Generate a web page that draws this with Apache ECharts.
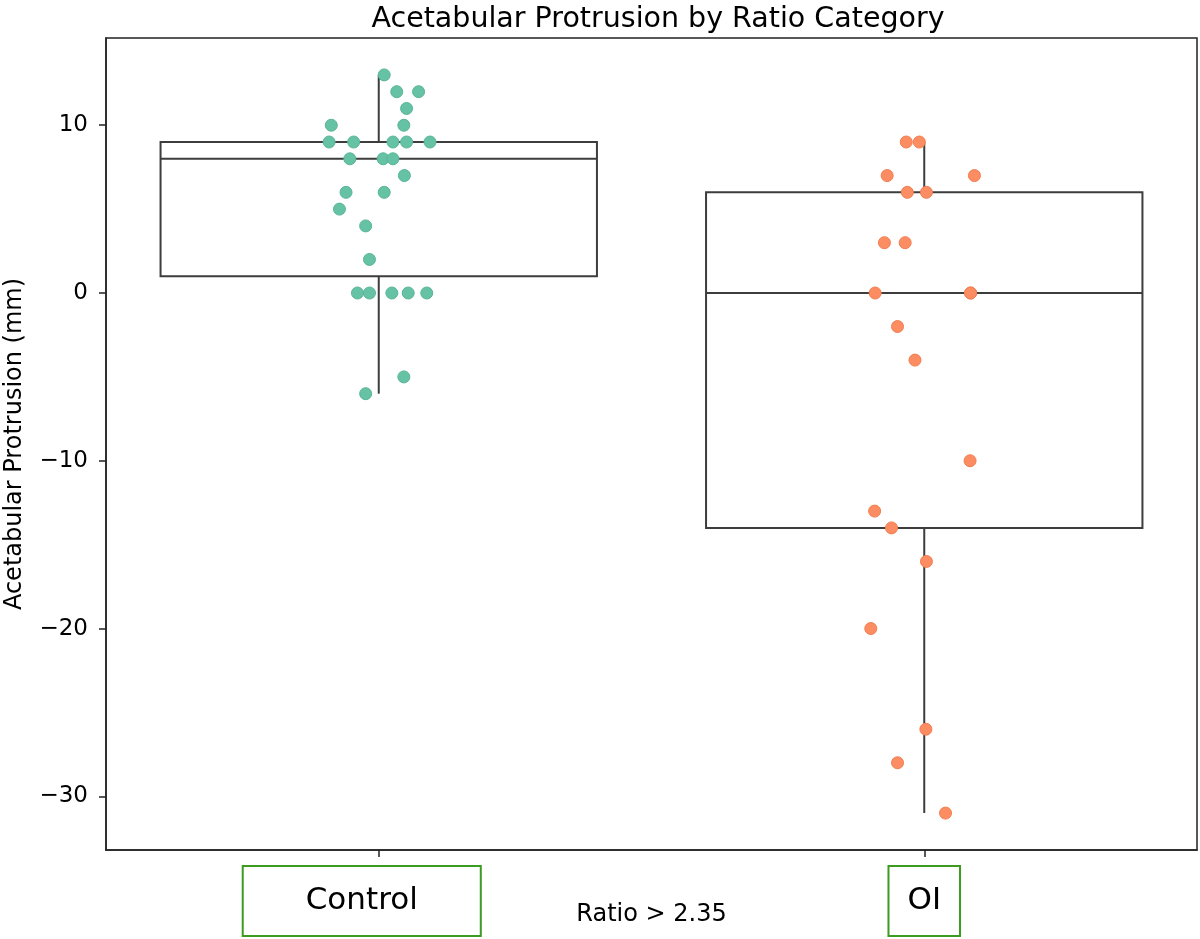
<!DOCTYPE html>
<html>
<head>
<meta charset="utf-8">
<script src="https://cdn.jsdelivr.net/npm/echarts@6/dist/echarts.min.js"></script>
<style>html,body{margin:0;padding:0;background:#fff}#c{width:1200px;height:939px}</style>
</head>
<body>
<div id="c"></div>
<script>
const categories = ['Control', 'OI'];
// box stats: [min whisker, Q1, median, Q3, max whisker]
const boxStats = [[-6, 1, 8, 9, 13], [-31, -14, 0, 6, 9]];
const controlValues = [13,12,12,11,10,10,9,9,9,9,9,8,8,8,7,6,6,5,4,2,0,0,0,0,0,-5,-6];
const controlJitter = [0.010,0.033,0.073,0.051,-0.087,0.046,-0.091,-0.046,0.026,0.051,0.094,-0.053,0.008,0.026,0.047,-0.060,0.010,-0.072,-0.024,-0.017,-0.039,-0.017,0.024,0.054,0.088,0.046,-0.024];
const oiValues = [9,9,7,7,6,6,3,3,0,0,0,-2,-4,-10,-13,-14,-16,-20,-26,-28,-31];
const oiJitter = [-0.033,-0.009,-0.068,0.092,-0.031,0.004,-0.073,-0.035,-0.090,0.085,0.085,-0.049,-0.017,0.084,-0.091,-0.060,0.004,-0.098,0.003,-0.049,0.039];
const yTicks = [-30, -20, -10, 0, 10];

const FONT = 'DejaVu Sans';
const chart = echarts.init(document.getElementById('c'), null, {renderer: 'canvas'});

const controlPts = controlValues.map((v, i) => [0 + controlJitter[i], v]);
const oiPts = oiValues.map((v, i) => [1 + oiJitter[i], v]);

const option = {
  backgroundColor: '#fff',
  animation: false,
  title: {
    text: 'Acetabular Protrusion by Ratio Category',
    left: 653, top: 0, textAlign: 'center',
    textStyle: {fontFamily: FONT, fontSize: 28.5, fontWeight: 'normal', color: '#000'}
  },
  grid: {left: 106, right: 3, top: 38, bottom: 89, show: true, borderColor: '#222', borderWidth: 1.5,
    backgroundColor: 'transparent', containLabel: false, outerBoundsMode: 'none'},
  xAxis: [{
    type: 'category', data: categories, boundaryGap: true,
    axisLine: {show: true, onZero: false, lineStyle: {color: '#222', width: 1.5}},
    axisTick: {show: true, alignWithLabel: true, length: 7, lineStyle: {color: '#222', width: 1.5}},
    axisLabel: {
      margin: 16,
      formatter: function (v) { return v === 'Control' ? '{c|Control}{s|}' : '{o|OI}'; },
      rich: {
        c: {fontFamily: FONT, fontSize: 31, color: '#000', padding: [0, 63], height: 70, lineHeight: 70, borderColor: '#3c9c22', borderWidth: 2},
        s: {width: 34, height: 70},
        o: {fontFamily: FONT, fontSize: 31, color: '#000', padding: [0, 19], height: 70, lineHeight: 70, borderColor: '#3c9c22', borderWidth: 2}
      }
    },
    name: 'Ratio > 2.35', nameLocation: 'middle', nameGap: 53, nameMoveOverlap: false,
    nameTextStyle: {fontFamily: FONT, fontSize: 24, color: '#000'},
    splitLine: {show: false}
  }, {
    type: 'value', min: -0.5, max: 1.5, show: false,
    axisLine: {show: false, onZero: false}
  }],
  yAxis: {
    type: 'value', min: -33.2, max: 15.2,
    axisLine: {show: true, onZero: false, lineStyle: {color: '#222', width: 1.5}},
    axisTick: {show: true, length: 7, customValues: yTicks, lineStyle: {color: '#222', width: 1.5}},
    axisLabel: {customValues: yTicks, margin: 18, fontFamily: FONT, fontSize: 23, color: '#000',
      formatter: v => (v < 0 ? '\u2212' + Math.abs(v) : String(v))},
    splitLine: {show: false},
    name: 'Acetabular Protrusion (mm)', nameLocation: 'middle', nameGap: 79, nameMoveOverlap: false,
    nameTextStyle: {fontFamily: FONT, fontSize: 24, color: '#000'}
  },
  series: [{
    type: 'custom', xAxisIndex: 0, yAxisIndex: 0, z: 2,
    data: boxStats.map((s, i) => [i].concat(s)),
    renderItem: function (params, api) {
      const idx = api.value(0);
      const mn = api.value(1), q1 = api.value(2), md = api.value(3), q3 = api.value(4), mx = api.value(5);
      const band = api.size([1, 0])[0];
      const half = band * 0.4;
      const cx = api.coord([idx, md])[0];
      const yq1 = api.coord([idx, q1])[1], yq3 = api.coord([idx, q3])[1];
      const ymd = api.coord([idx, md])[1], ymn = api.coord([idx, mn])[1], ymx = api.coord([idx, mx])[1];
      const st = {stroke: '#3d3d3d', lineWidth: 2, fill: null};
      return {type: 'group', children: [
        {type: 'line', shape: {x1: cx, y1: yq3, x2: cx, y2: ymx}, style: st},
        {type: 'line', shape: {x1: cx, y1: yq1, x2: cx, y2: ymn}, style: st},
        {type: 'rect', shape: {x: cx - half, y: yq3, width: 2 * half, height: yq1 - yq3}, style: {stroke: '#3d3d3d', lineWidth: 2, fill: 'rgba(255,255,255,0)'}},
        {type: 'line', shape: {x1: cx - half, y1: ymd, x2: cx + half, y2: ymd}, style: st}
      ]};
    }
  }, {
    type: 'scatter', xAxisIndex: 1, yAxisIndex: 0, z: 5,
    symbolSize: 12, data: controlPts,
    itemStyle: {color: '#66c2a5', borderColor: '#5ab597', borderWidth: 1, opacity: 1}
  }, {
    type: 'scatter', xAxisIndex: 1, yAxisIndex: 0, z: 5,
    symbolSize: 12, data: oiPts,
    itemStyle: {color: '#fc8d62', borderColor: '#f27d50', borderWidth: 1, opacity: 1}
  }]
};
chart.setOption(option);
</script>
</body>
</html>
